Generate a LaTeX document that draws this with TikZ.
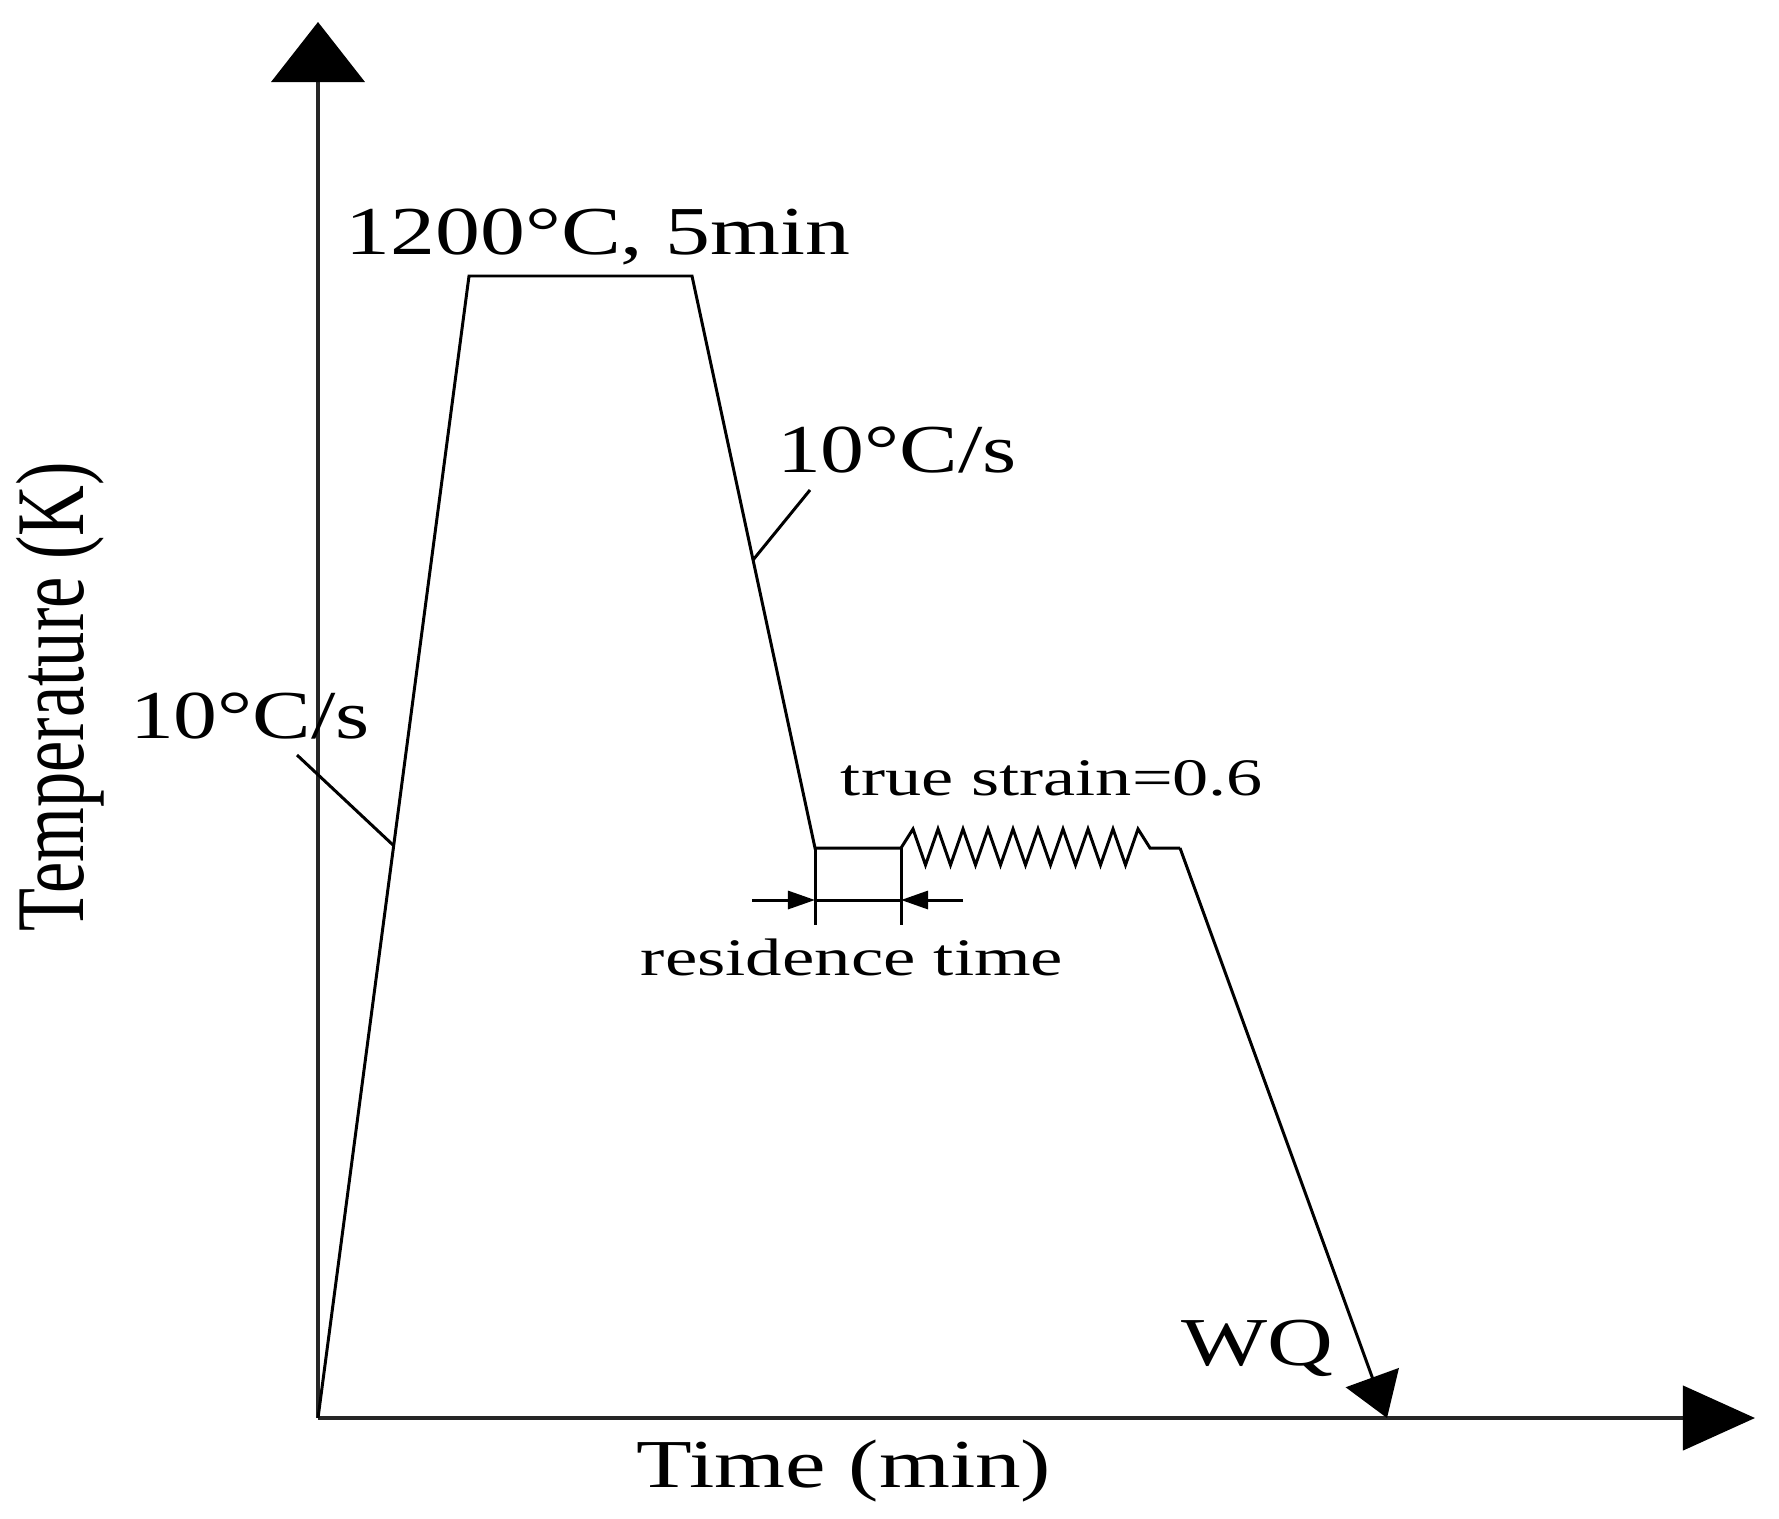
\documentclass[tikz,border=0pt]{standalone}
\usepackage{fontspec}
\usepackage{graphicx}
\setmainfont{Liberation Serif}
\usetikzlibrary{arrows.meta}
\newcommand{\hstr}[2]{\scalebox{#1}[1]{#2}}
\begin{document}
\begin{tikzpicture}[x=0.01cm,y=-0.01cm,
  axisline/.style={line width=1.2pt, black!85},
  curve/.style={line width=0.85pt, line join=miter},
  bigtext/.style={font=\fontsize{19.5}{23}\selectfont, inner sep=0pt, anchor=base},
  smalltext/.style={font=\fontsize{15}{18}\selectfont, inner sep=0pt, anchor=base},
]
\useasboundingbox (0,0) rectangle (1779,1518);
% key points
\coordinate (O) at (318,1418);
\coordinate (ytop) at (318,22);
\coordinate (xend) at (1755,1418);
\coordinate (A) at (469,276);
\coordinate (B) at (692,276);
\coordinate (C) at (815,848);
\coordinate (D) at (901,848);
\coordinate (E) at (1150,848);
\coordinate (F) at (1180,848);
\coordinate (G) at (1387,1418);
\coordinate (Cb) at (815,925);
\coordinate (Db) at (901,925);
\coordinate (dimL) at (752,900);
\coordinate (dimR) at (963,900);
\coordinate (dimA) at (815,900);
\coordinate (dimB) at (901,900);
\coordinate (lk) at (393,845);
\coordinate (lt) at (297,755);
\coordinate (rk) at (753,560);
\coordinate (rt) at (810,490);
% axes
\draw[axisline, -{Triangle[length=6mm,width=9.3mm,color=black]}] (O) -- (ytop);
\draw[axisline, -{Triangle[length=7.2mm,width=6.4mm,color=black]}] (O) -- (xend);
% thermal cycle
\draw[curve] (O) -- (A) -- (B) -- (C) -- (D)
  -- (913,829) -- (925.5,865) -- (938,829) -- (950.5,865) -- (963,829)
  -- (975.5,865) -- (988,829) -- (1000.5,865) -- (1013,829) -- (1025.5,865)
  -- (1038,829) -- (1050.5,865) -- (1063,829) -- (1075.5,865) -- (1088,829)
  -- (1100.5,865) -- (1113,829) -- (1125.5,865) -- (1138,829) -- (E) -- (F);
\draw[curve, -{Triangle[length=4.3mm,width=5.6mm]}] (F) -- (G);
% residence time box
\draw[curve] (C) -- (Cb);
\draw[curve] (D) -- (Db);
\draw[curve] (dimA) -- (dimB);
\draw[curve, -{Triangle[length=2.7mm,width=1.8mm]}] (dimL) -- (dimA);
\draw[curve, -{Triangle[length=2.7mm,width=1.8mm]}] (dimR) -- (dimB);
% leaders
\draw[curve] (lk) -- (lt);
\draw[curve] (rk) -- (rt);
% labels
\node[bigtext] (hold) at (598,254) {\hstr{1.31}{1200°C, 5min}};
\node[bigtext] (rateR) at (897,472) {\hstr{1.28}{10°C/s}};
\node[bigtext] (rateL) at (250,738) {\hstr{1.28}{10°C/s}};
\node[smalltext] (strain) at (1052,795) {\hstr{1.37}{true strain=0.6}};
\node[smalltext] (res) at (852,975) {\hstr{1.38}{residence time}};
\node[bigtext] (wq) at (1257,1365) {\hstr{1.33}{WQ}};
\node[bigtext] (xlab) at (844,1487) {\hstr{1.33}{Time (min)}};
\node[bigtext, font=\fontsize{20}{24}\selectfont, rotate=90] (ylab) at (83,697) {\scalebox{1}[1.38]{Temperature (K)}};
\end{tikzpicture}
\end{document}
